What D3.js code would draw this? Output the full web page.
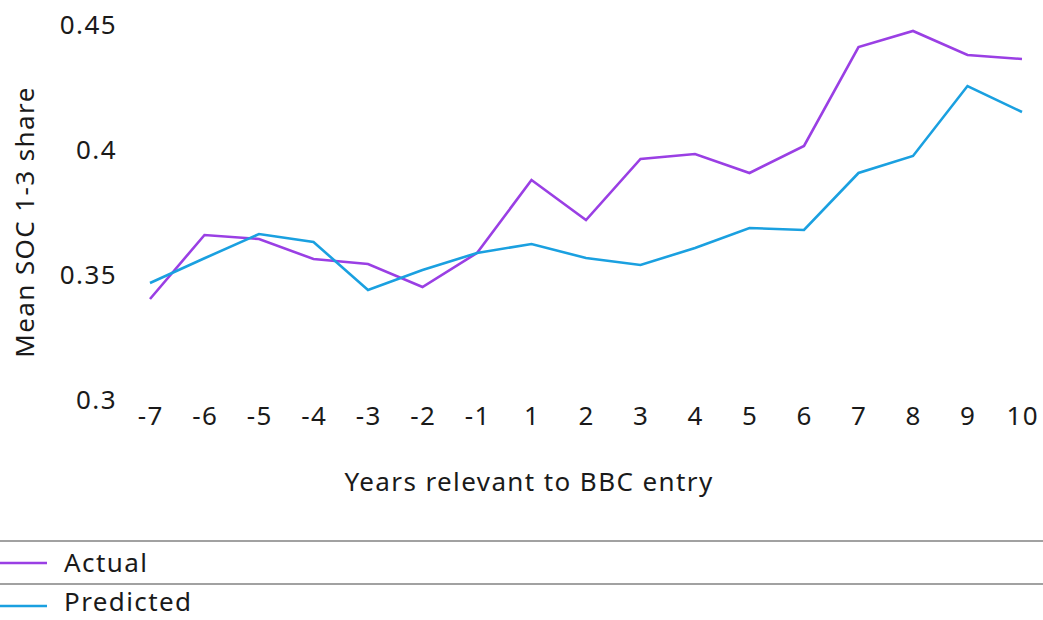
<!DOCTYPE html>
<html><head><meta charset="utf-8">
<script src="https://cdn.jsdelivr.net/npm/d3@7"></script>
<style>body{margin:0;background:#fff;} svg{display:block;font-family:"Noto Sans","Open Sans",sans-serif;}</style>
</head><body><svg id="c" width="1043" height="620"></svg>
<script>
const years = ["-7","-6","-5","-4","-3","-2","-1","1","2","3","4","5","6","7","8","9","10"];
const actual = [0.3404,0.366,0.3644,0.3564,0.3544,0.3452,0.3588,0.388,0.372,0.3964,0.3984,0.3908,0.4016,0.4412,0.4476,0.438,0.4364];
const predicted = [0.3468,0.3567,0.3664,0.3632,0.344,0.352,0.3588,0.3624,0.3568,0.354,0.3608,0.3688,0.368,0.3908,0.3976,0.4256,0.4152];
const yTicks = [0.3,0.35,0.4,0.45];
const yTickLabels = ["0.3","0.35","0.4","0.45"];
const seriesNames = ["Actual","Predicted"];
const colors = ["#9a3fe4","#1aa0e0"];

const FS = 26, LS = 1.4;
const svg = d3.select("#c");
const x = d3.scalePoint().domain(years).range([150,1022]);
const y = d3.scaleLinear().domain([0.3,0.45]).range([400,25]);

function txt(sel){ return sel.attr("font-size",FS).attr("letter-spacing",LS).attr("fill","#1a1a1a"); }

// y axis labels
txt(svg.append("g").selectAll("text").data(yTicks).join("text")
  .attr("x",117).attr("y",d=>y(d)).attr("dy","0.35em")
  .attr("text-anchor","end"))
  .text((d,i)=>yTickLabels[i]);

// x axis labels
txt(svg.append("g").selectAll("text").data(years).join("text")
  .attr("x",d=>x(d)+0.7).attr("y",416).attr("dy","0.35em")
  .attr("text-anchor","middle"))
  .text(d=>d);

txt(svg.append("text").attr("x",529).attr("y",482).attr("dy","0.35em")
  .attr("text-anchor","middle"))
  .text("Years relevant to BBC entry");

txt(svg.append("text").attr("transform","translate(25,222) rotate(-90)").attr("dy","0.35em")
  .attr("text-anchor","middle"))
  .text("Mean SOC 1-3 share");

const line = d3.line().x((d,i)=>x(years[i])).y(d=>y(d));
[actual,predicted].forEach((s,k)=>{
  svg.append("path").datum(s).attr("d",line).attr("fill","none")
    .attr("stroke",colors[k]).attr("stroke-width",2.6).attr("stroke-linejoin","miter");
});

// legend
const lg = svg.append("g");
[541,584].forEach(yy=>lg.append("line").attr("x1",0).attr("x2",1043).attr("y1",yy).attr("y2",yy).attr("stroke","#444").attr("stroke-width",1.2));
seriesNames.forEach((n,k)=>{
  const yy = 563 + k*43;
  lg.append("line").attr("x1",0).attr("x2",47).attr("y1",yy).attr("y2",yy).attr("stroke",colors[k]).attr("stroke-width",2.5);
  txt(lg.append("text").attr("x",64).attr("y",yy - k*4).attr("dy","0.33em")).text(n);
});
</script></body></html>
